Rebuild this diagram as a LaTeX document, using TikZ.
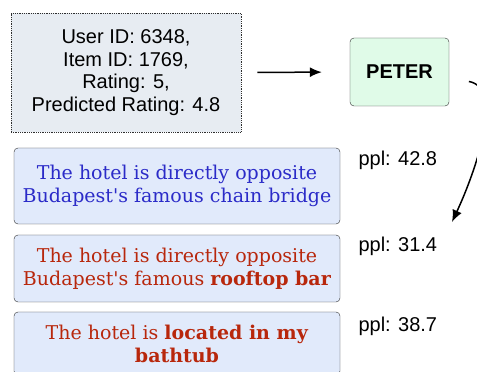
\documentclass[tikz,border=0pt]{standalone}
\usepackage{fontspec}
\setsansfont{Liberation Sans}
\newfontfamily\slab{DejaVu Serif}
\usepackage{xcolor}
\usetikzlibrary{arrows.meta}
\definecolor{infofill}{HTML}{E7ECF2}
\definecolor{peterfill}{HTML}{E0FBE8}
\definecolor{boxfill}{HTML}{E1EAFB}
\definecolor{bluetext}{HTML}{2B2BC8}
\definecolor{redtext}{HTML}{B8270C}
\definecolor{edge}{HTML}{2E2E2E}

\begin{document}
\begin{tikzpicture}[x=1pt,y=1pt,
    sent/.style={draw=edge, fill=boxfill, rounded corners=4pt, minimum width=326pt,
      inner sep=0pt, align=center, font=\slab\fontsize{19}{23}\selectfont},
    ppl/.style={anchor=west, font=\sffamily\fontsize{20}{22}\selectfont},
    arr/.style={line width=1.5pt, -{Latex[length=12pt,width=10pt]}}]
                \useasboundingbox (0,0) rectangle (477,372);
                \clip (0,0) rectangle (477,372);
                % input record and model
                \node[draw=edge, densely dotted, thick, fill=infofill, minimum width=230pt, minimum height=119pt,
                      align=center, font=\sffamily\fontsize{20}{22.4}\selectfont] (info) at (126,299.5)
                      {User ID: 6348,\\Item ID: 1769,\\Rating: 5,\\Predicted Rating: 4.8};
                \node[draw=edge, fill=peterfill, rounded corners=4pt, minimum width=99pt, minimum height=68pt,
                      font=\sffamily\bfseries\fontsize{20}{22}\selectfont] (peter) at (399.5,300) {PETER};
                \draw[arr, shorten <=16pt, shorten >=28pt] (info.east) -- (peter.west);
                % generated explanations
                \node[sent, minimum height=76pt, text=bluetext] (exp1) at (177,186)
                      {The hotel is directly opposite\\Budapest's famous chain bridge};
                \node[sent, minimum height=67pt, text=redtext] (exp2) at (177,103.5)
                      {The hotel is directly opposite\\Budapest's famous \textbf{rooftop bar}};
                \node[sent, minimum height=63pt, text=redtext] (exp3) at (177,28.5)
                      {The hotel is \textbf{located in my}\\\textbf{bathtub}};
                \node[ppl] (ppl1) at (355,212) {ppl: 42.8};
                \node[ppl] (ppl2) at (355,126) {ppl: 31.4};
                \node[ppl] (ppl3) at (355,46) {ppl: 38.7};
                \coordinate (tip) at (452,150);
                \draw[arr, shorten <=20pt] ([yshift=-6pt]peter.east) to[out=-10,in=65] (tip);
            \end{tikzpicture}
\end{document}
